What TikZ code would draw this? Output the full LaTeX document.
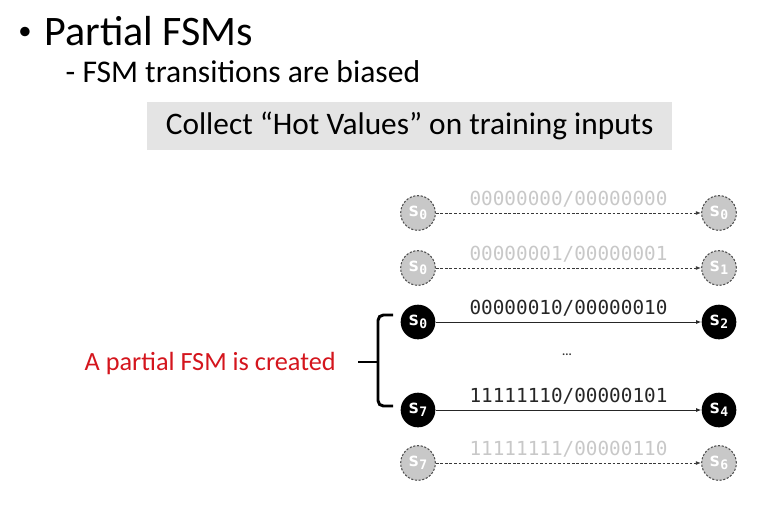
\documentclass[tikz,border=0pt]{standalone}
\usepackage{fontspec}
\setmainfont{Carlito}
\newfontfamily\monofont{DejaVu Sans Mono}
\usetikzlibrary{arrows.meta}
\definecolor{coldfill}{HTML}{C8C8C8}
\definecolor{coldrim}{HTML}{505050}
\definecolor{boxgray}{HTML}{E4E4E4}
\definecolor{slidered}{HTML}{D4151D}
\begin{document}
\begin{tikzpicture}[x=0.75pt,y=-0.75pt,
  cold/.style={circle,minimum size=26pt,inner sep=0pt,fill=coldfill,draw=coldrim,
    dash pattern=on 1.6pt off 1.2pt,line width=0.8pt,text=white,
    font=\monofont\bfseries\fontsize{14}{14}\selectfont},
  hot/.style={circle,minimum size=26pt,inner sep=0pt,fill=black,text=white,
    font=\monofont\bfseries\fontsize{14}{14}\selectfont},
  coldedge/.style={-{Latex[length=4pt,width=3pt]},coldrim!70!black,line width=0.7pt,
    dash pattern=on 2pt off 1.4pt},
  hotedge/.style={-{Latex[length=4pt,width=3pt]},black!85,line width=0.7pt},
  coldlab/.style={above=0.5pt,text=coldfill,font=\monofont\fontsize{14.5}{15}\selectfont},
  hotlab/.style={above=0.5pt,text=black!85,font=\monofont\fontsize{14.5}{15}\selectfont}]
\useasboundingbox (0,0) rectangle (780,508);
% heading
\node[anchor=center] (bullet) at (25,33) {\fontsize{20}{24}\selectfont •};
\node[anchor=base west] (title) at (40,45) {\fontsize{31.5}{36}\selectfont Partial FSMs};
\node[anchor=base west] (subtitle) at (61,82) {\fontsize{23.7}{28}\selectfont - FSM transitions are biased};
\node[anchor=north west,fill=boxgray,minimum width=393.75pt,minimum height=36pt,
  font=\fontsize{23.5}{27}\selectfont] (hotbox) at (147,102) {Collect “Hot Values” on training inputs};
% states
\node[cold] (l1) at (418,213) {s\textsubscript{0}};
\node[cold] (r1) at (719,213) {s\textsubscript{0}};
\node[cold] (l2) at (418,268) {s\textsubscript{0}};
\node[cold] (r2) at (719,268) {s\textsubscript{1}};
\node[hot] (l3) at (418,322) {s\textsubscript{0}};
\node[hot] (r3) at (719,322) {s\textsubscript{2}};
\node[hot] (l4) at (418,410) {s\textsubscript{7}};
\node[hot] (r4) at (719,410) {s\textsubscript{4}};
\node[cold] (l5) at (418,463) {s\textsubscript{7}};
\node[cold] (r5) at (719,463) {s\textsubscript{6}};
% transitions
\draw[coldedge] (l1) -- (r1) node[midway,coldlab] {00000000/00000000};
\draw[coldedge] (l2) -- (r2) node[midway,coldlab] {00000001/00000001};
\draw[hotedge] (l3) -- (r3) node[midway,hotlab] {00000010/00000010};
\draw[hotedge] (l4) -- (r4) node[midway,hotlab] {11111110/00000101};
\draw[coldedge] (l5) -- (r5) node[midway,coldlab] {11111111/00000110};
\node[text=black!80,font=\bfseries\fontsize{9}{9}\selectfont] (gap) at (567,355) {...};
% brace
\draw[line width=2.2pt,rounded corners=4pt] (393,315) -- (378,315) -- (378,406) -- (393,406);
\draw[line width=2.2pt] (358,362) -- (378,362);
\node[anchor=base west,text=slidered,font=\fontsize{19.7}{24}\selectfont] (created) at (80,370) {A partial FSM is created};
\end{tikzpicture}
\end{document}
